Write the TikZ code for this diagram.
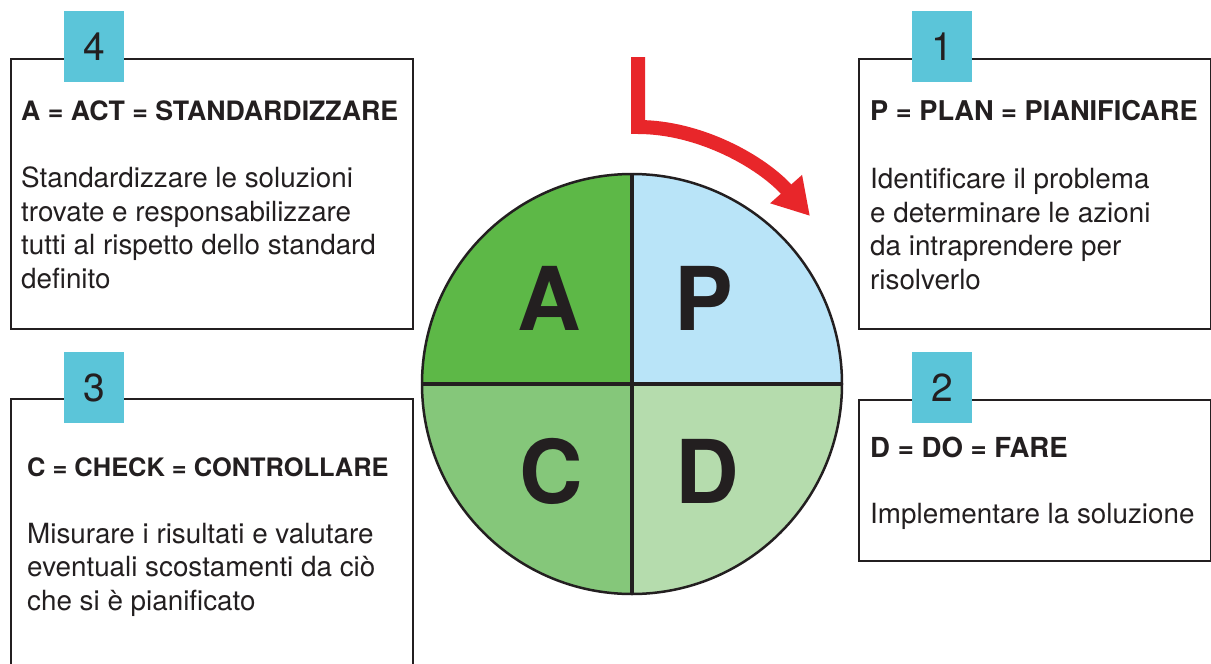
\documentclass[tikz,border=0pt]{standalone}
\usepackage{fontspec}
\setmainfont{TeX Gyre Heros}
\usetikzlibrary{arrows.meta}
\definecolor{ink}{HTML}{231F20}
\definecolor{tabcyan}{HTML}{5BC5D9}
\definecolor{actgreen}{HTML}{5DB847}
\definecolor{planblue}{HTML}{B9E4F8}
\definecolor{checkgreen}{HTML}{85C77A}
\definecolor{dogreen}{HTML}{B5DCAD}
\definecolor{arrowred}{HTML}{E8262A}
\begin{document}
\begin{tikzpicture}[x=1pt,y=-1pt,
  panel/.style={draw=ink, line width=2pt, fill=white, anchor=north west, inner sep=0pt},
  numtab/.style={fill=tabcyan, minimum width=60pt, minimum height=71pt, inner sep=0pt,
    anchor=north west, text=ink, font=\fontsize{39}{39}\selectfont},
  headline/.style={anchor=base west, inner sep=0pt, text=ink,
    font=\bfseries\fontsize{#1}{30}\selectfont},
  headline/.default=27,
  % multi-line blocks are placed by the baseline of their last line
  bodytext/.style={anchor=base west, inner sep=0pt, text=ink, align=left,
    font=\fontsize{27.8}{33.5}\selectfont},
  bigletter/.style={inner sep=0pt, text=ink, font=\bfseries\fontsize{88}{88}\selectfont}
]
\clip (0,0) rectangle (1211,664);
\fill[white] (0,0) rectangle (1211,664);

% --- panel 4: Act ---
\node[panel, minimum width=402pt, minimum height=270pt] (boxA) at (10,58) {};
\node[numtab] (tabA) at (64,11) {4};
\node[headline=26.7] (headA) at (21,120) {A = ACT = STANDARDIZZARE};
\node[bodytext] (textA) at (21,288) {Standardizzare le soluzioni\\trovate e responsabilizzare\\tutti al rispetto dello standard\\definito};

% --- panel 3: Check ---
\node[panel, minimum width=402pt, minimum height=290pt] (boxC) at (10,398) {};
\node[numtab] (tabC) at (64,352) {3};
\node[headline=25.4] (headC) at (27,476) {C = CHECK = CONTROLLARE};
\node[bodytext] (textC) at (27,610) {Misurare i risultati e valutare\\eventuali scostamenti da ciò\\che si è pianificato};

% --- panel 1: Plan ---
\node[panel, minimum width=352pt, minimum height=270pt] (boxP) at (858,58) {};
\node[numtab] (tabP) at (912,11) {1};
\node[headline=27.2] (headP) at (870,120) {P = PLAN = PIANIFICARE};
\node[bodytext] (textP) at (870,289) {Identificare il problema\\e determinare le azioni\\da intraprendere per\\risolverlo};

% --- panel 2: Do ---
\node[panel, minimum width=352pt, minimum height=161pt] (boxD) at (858,399) {};
\node[numtab] (tabD) at (912,352) {2};
\node[headline=27.6] (headD) at (870,457) {D = DO = FARE};
\node[bodytext] (textD) at (870,523) {Implementare la soluzione};

% --- PDCA wheel ---
\coordinate (cen) at (632,384);
\fill[dogreen]    (cen) -- ++(0:210)   arc[start angle=0,   end angle=90,  radius=210] -- cycle;
\fill[checkgreen] (cen) -- ++(90:210)  arc[start angle=90,  end angle=180, radius=210] -- cycle;
\fill[actgreen]   (cen) -- ++(180:210) arc[start angle=180, end angle=270, radius=210] -- cycle;
\fill[planblue]   (cen) -- ++(270:210) arc[start angle=270, end angle=360, radius=210] -- cycle;
\node[circle, draw=ink, line width=2.5pt, minimum size=420pt, inner sep=0pt] (wheel) at (cen) {};
\draw[ink, line width=4pt] (wheel.north) -- (wheel.south);
\draw[ink, line width=4pt] (wheel.west) -- (wheel.east);
\node[bigletter] (letA) at (549,298) {A};
\node[bigletter] (letP) at (704,298) {P};
\node[bigletter] (letC) at (551,471) {C};
\node[bigletter] (letD) at (707,471) {D};

% --- red cycle arrow ---
\coordinate (arrStart) at (638,57);
\coordinate (arrBend) at (638,127);
\coordinate (arrTip) at (810,216);
\draw[arrowred, line width=14pt, line join=miter,
      -{Triangle[length=36pt,width=40pt]}]
  (arrStart) -- (arrBend) .. controls (700,127) and (762,162) .. (arrTip);
\end{tikzpicture}
\end{document}
